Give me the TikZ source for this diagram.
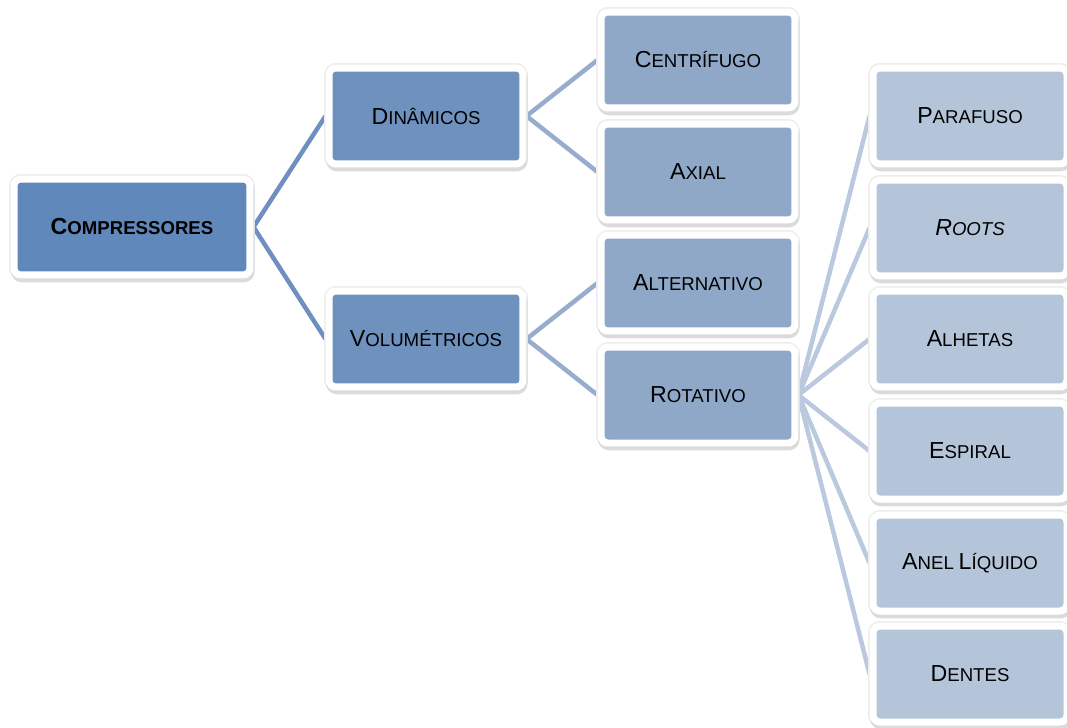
\documentclass[tikz,border=0pt]{standalone}
\usepackage{fontspec}
\setmainfont{Liberation Sans}
\usepackage{tikz}
\usetikzlibrary{backgrounds}

\definecolor{lvone}{RGB}{96,136,187}
\definecolor{lvtwo}{RGB}{110,145,190}
\definecolor{lvthree}{RGB}{143,168,200}
\definecolor{lvfour}{RGB}{181,197,217}
\definecolor{lnone}{RGB}{110,143,192}
\definecolor{lntwo}{RGB}{152,173,206}
\definecolor{lnthree}{RGB}{187,201,223}

\newcommand{\fakesc}[2]{{\fontsize{13.2}{15}\selectfont #1}{\fontsize{10.6}{12}\selectfont #2}}

\tikzset{
  box/.style={rectangle, rounded corners=0.14cm, draw=white, line width=0.14cm,
    minimum width=3.88cm, minimum height=1.92cm, inner sep=0pt, text=black,
    preaction={draw=black!7, line width=0.2cm},
    preaction={fill=black!14, draw=black!14, line width=0.15cm,
      transform canvas={xshift=0.5pt, yshift=-2pt}}},
  link/.style={line width=0.09cm},
}

\begin{document}
\begin{tikzpicture}[x=0.02cm, y=-0.02cm]
\useasboundingbox (0,0) rectangle (1067,727);

\node[box, fill=lvone, minimum width=4.72cm] at (132,227) (comp) {\bfseries\fakesc{C}{OMPRESSORES}};

\node[box, fill=lvtwo] at (426,116) (din) {\fakesc{D}{INÂMICOS}};
\node[box, fill=lvtwo] at (426,339) (vol) {\fakesc{V}{OLUMÉTRICOS}};

\node[box, fill=lvthree] at (698,60) (cen) {\fakesc{C}{ENTRÍFUGO}};
\node[box, fill=lvthree] at (698,172) (axi) {\fakesc{A}{XIAL}};
\node[box, fill=lvthree] at (698,283) (alt) {\fakesc{A}{LTERNATIVO}};
\node[box, fill=lvthree] at (698,395) (rot) {\fakesc{R}{OTATIVO}};

\node[box, fill=lvfour] at (970,116) (par) {\fakesc{P}{ARAFUSO}};
\node[box, fill=lvfour] at (970,228) (roo) {\itshape\fakesc{R}{OOTS}};
\node[box, fill=lvfour] at (970,339) (alh) {\fakesc{A}{LHETAS}};
\node[box, fill=lvfour] at (970,451) (esp) {\fakesc{E}{SPIRAL}};
\node[box, fill=lvfour] at (970,563) (ane) {\fakesc{A}{NEL} \fakesc{L}{ÍQUIDO}};
\node[box, fill=lvfour] at (970,674) (den) {\fakesc{D}{ENTES}};

\begin{scope}[on background layer]
\foreach \k in {din, vol} {
   \draw[link, lnone] (comp.east) -- (\k.west);
}
\foreach \k in {cen, axi} {
   \draw[link, lntwo] (din.east) -- (\k.west);
}
\foreach \k in {alt, rot} {
   \draw[link, lntwo] (vol.east) -- (\k.west);
}
\foreach \k in {par, roo, alh, esp, ane, den} {
   \draw[link, lnthree] (rot.east) -- (\k.west);
}
\end{scope}
\end{tikzpicture}
\end{document}
